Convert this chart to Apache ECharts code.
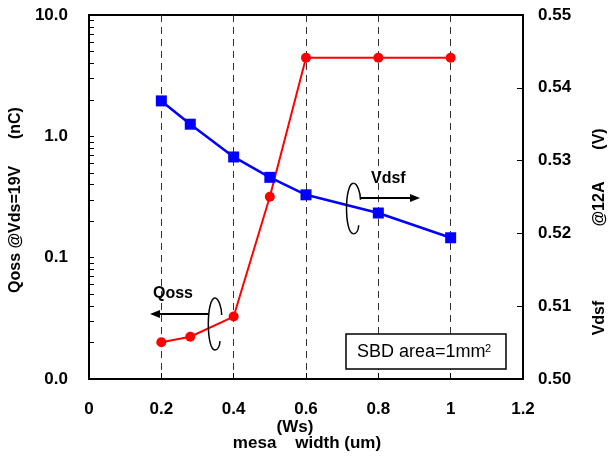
<!DOCTYPE html>
<html>
<head>
<meta charset="utf-8">
<script src="https://cdn.jsdelivr.net/npm/echarts@6/dist/echarts.min.js"></script>
<style>
  html, body { margin: 0; padding: 0; background: #fff; }
  #chart { width: 611px; height: 457px; }
</style>
</head>
<body>
<div id="chart"></div>
<script>
// mesa width (um)
var mesaWidth = [0.2, 0.28, 0.4, 0.5, 0.6, 0.8, 1.0];
// Qoss @Vds=19V (nC), left log axis, red circles
var qoss = [0.0201, 0.0223, 0.0327, 0.318, 4.45, 4.45, 4.45];
// Vdsf @12A (V), right axis, blue squares
var vdsf = [0.5382, 0.5350, 0.5305, 0.5277, 0.5253, 0.5228, 0.5194];
// log axis ticks (decades + minor)
var logTicks = [0.01, 0.02, 0.03, 0.04, 0.05, 0.06, 0.07, 0.08, 0.09,
  0.1, 0.2, 0.3, 0.4, 0.5, 0.6, 0.7, 0.8, 0.9,
  1, 2, 3, 4, 5, 6, 7, 8, 9, 10];

var FONT = "'Liberation Sans', Arial, sans-serif";

function pairs(xs, ys) {
  var out = [];
  for (var i = 0; i < xs.length; i++) out.push([xs[i], ys[i]]);
  return out;
}

// half-ellipse loop used as the "which axis" marker
function loop(cx, cy, rx, ry) {
  var st = { stroke: '#000', lineWidth: 1.5, fill: null };
  return [
    { type: 'bezierCurve', silent: true, z: 100,
      shape: { x1: cx, y1: cy - ry, cpx1: cx - 1.33 * rx, cpy1: cy - ry,
               cpx2: cx - 1.33 * rx, cpy2: cy + ry, x2: cx, y2: cy + ry }, style: st },
    { type: 'bezierCurve', silent: true, z: 100,
      shape: { x1: cx, y1: cy - ry, cpx1: cx + 0.55 * rx, cpy1: cy - ry,
               cpx2: cx + rx, cpy2: cy - 0.6 * ry, x2: cx + rx, y2: cy - 0.35 * ry }, style: st },
    { type: 'bezierCurve', silent: true, z: 100,
      shape: { x1: cx, y1: cy + ry, cpx1: cx + 0.4 * rx, cpy1: cy + ry,
               cpx2: cx + 0.7 * rx, cpy2: cy + 0.85 * ry, x2: cx + 0.75 * rx, y2: cy + 0.66 * ry }, style: st }
  ];
}

function arrow(x1, x2, y) {
  var dir = x2 > x1 ? 1 : -1;
  return [
    { type: 'line', silent: true, z: 100,
      shape: { x1: x1, y1: y, x2: x2 - dir * 8, y2: y },
      style: { stroke: '#000', lineWidth: 2 } },
    { type: 'polygon', silent: true, z: 100,
      shape: { points: [[x2, y], [x2 - dir * 10, y - 4], [x2 - dir * 10, y + 4]] },
      style: { fill: '#000' } }
  ];
}

function vText(txt, x, y) {
  return { type: 'text', x: x, y: y, rotation: Math.PI / 2, silent: true,
    style: { text: txt, font: 'bold 16px ' + FONT, fill: '#000',
             align: 'center', verticalAlign: 'middle' } };
}

var chart = echarts.init(document.getElementById('chart'), null, { renderer: 'canvas' });

var graphics = [
  { type: 'text', left: 153, top: 286, silent: true, z: 100,
    style: { text: 'Qoss', font: 'bold 16px ' + FONT, fill: '#000' } },
  { type: 'text', left: 371, top: 171, silent: true, z: 100,
    style: { text: 'Vdsf', font: 'bold 16px ' + FONT, fill: '#000' } },
  { type: 'rect', silent: true, z: 90,
    shape: { x: 346, y: 334, width: 160, height: 35 },
    style: { fill: '#fff', stroke: '#000', lineWidth: 1.5 } },
  { type: 'text', x: 357, y: 352, silent: true, z: 100,
    style: { text: 'SBD area=1mm', font: '18px ' + FONT, fill: '#000', verticalAlign: 'middle' } },
  { type: 'text', x: 485, y: 349, silent: true, z: 100,
    style: { text: '2', font: '11px ' + FONT, fill: '#000', verticalAlign: 'middle' } },
  vText('Qoss @Vds=19V      (nC)', 16, 200),
  vText('(V)', 600, 139),
  vText('@12A', 600, 204),
  vText('Vdsf', 600, 318),
  { type: 'text', x: 295, y: 427, silent: true,
    style: { text: '(Ws)', font: 'bold 17px ' + FONT, fill: '#000',
             align: 'center', verticalAlign: 'middle' } },
  { type: 'text', x: 307, y: 443, silent: true,
    style: { text: 'mesa    width (um)', font: 'bold 17px ' + FONT, fill: '#000',
             align: 'center', verticalAlign: 'middle' } }
].concat(arrow(209, 150, 314), loop(215, 324, 6.7, 26),
         arrow(360, 420, 198), loop(353.5, 208.5, 7, 25.3));

var option = {
  backgroundColor: '#fff',
  animation: false,
  grid: {
    left: 89, right: 88, top: 15, bottom: 78,
    show: true, borderColor: '#000', borderWidth: 2, backgroundColor: '#fff'
  },
  xAxis: {
    type: 'value', min: 0, max: 1.2, interval: 0.2,
    axisLine: { lineStyle: { color: '#000', width: 2 } },
    axisTick: { inside: true, length: 6, lineStyle: { color: '#000' } },
    axisLabel: { margin: 22, color: '#000', fontFamily: FONT, fontWeight: 'bold', fontSize: 17 },
    splitLine: { show: true, lineStyle: { color: '#333', width: 1, type: [7, 5] } }
  },
  yAxis: [
    {
      type: 'log', logBase: 10, min: 0.01, max: 10, position: 'left',
      axisLine: { show: true, lineStyle: { color: '#000', width: 2 } },
      axisTick: { show: true, inside: true, length: 5, customValues: logTicks,
                  lineStyle: { color: '#000' } },
      axisLabel: { margin: 21, color: '#000', fontFamily: FONT, fontWeight: 'bold', fontSize: 17,
                   formatter: function (v) { return v.toFixed(1); } },
      splitLine: { show: false }
    },
    {
      type: 'value', min: 0.5, max: 0.55, interval: 0.01, position: 'right',
      axisLine: { show: true, lineStyle: { color: '#000', width: 2 } },
      axisTick: { show: true, inside: true, length: 6, lineStyle: { color: '#000' } },
      axisLabel: { margin: 15, color: '#000', fontFamily: FONT, fontWeight: 'bold', fontSize: 17,
                   formatter: function (v) { return v.toFixed(2); } },
      splitLine: { show: false }
    }
  ],
  series: [
    {
      name: 'Vdsf', type: 'line', yAxisIndex: 1,
      data: pairs(mesaWidth, vdsf),
      symbol: 'rect', symbolSize: 11,
      lineStyle: { color: '#0000ff', width: 2.5 },
      itemStyle: { color: '#0000ff' }
    },
    {
      name: 'Qoss', type: 'line', yAxisIndex: 0,
      data: pairs(mesaWidth, qoss),
      symbol: 'circle', symbolSize: 10,
      lineStyle: { color: '#ff0000', width: 2 },
      itemStyle: { color: '#ff0000' }
    }
  ],
  graphic: graphics
};

chart.setOption(option);
</script>
</body>
</html>
